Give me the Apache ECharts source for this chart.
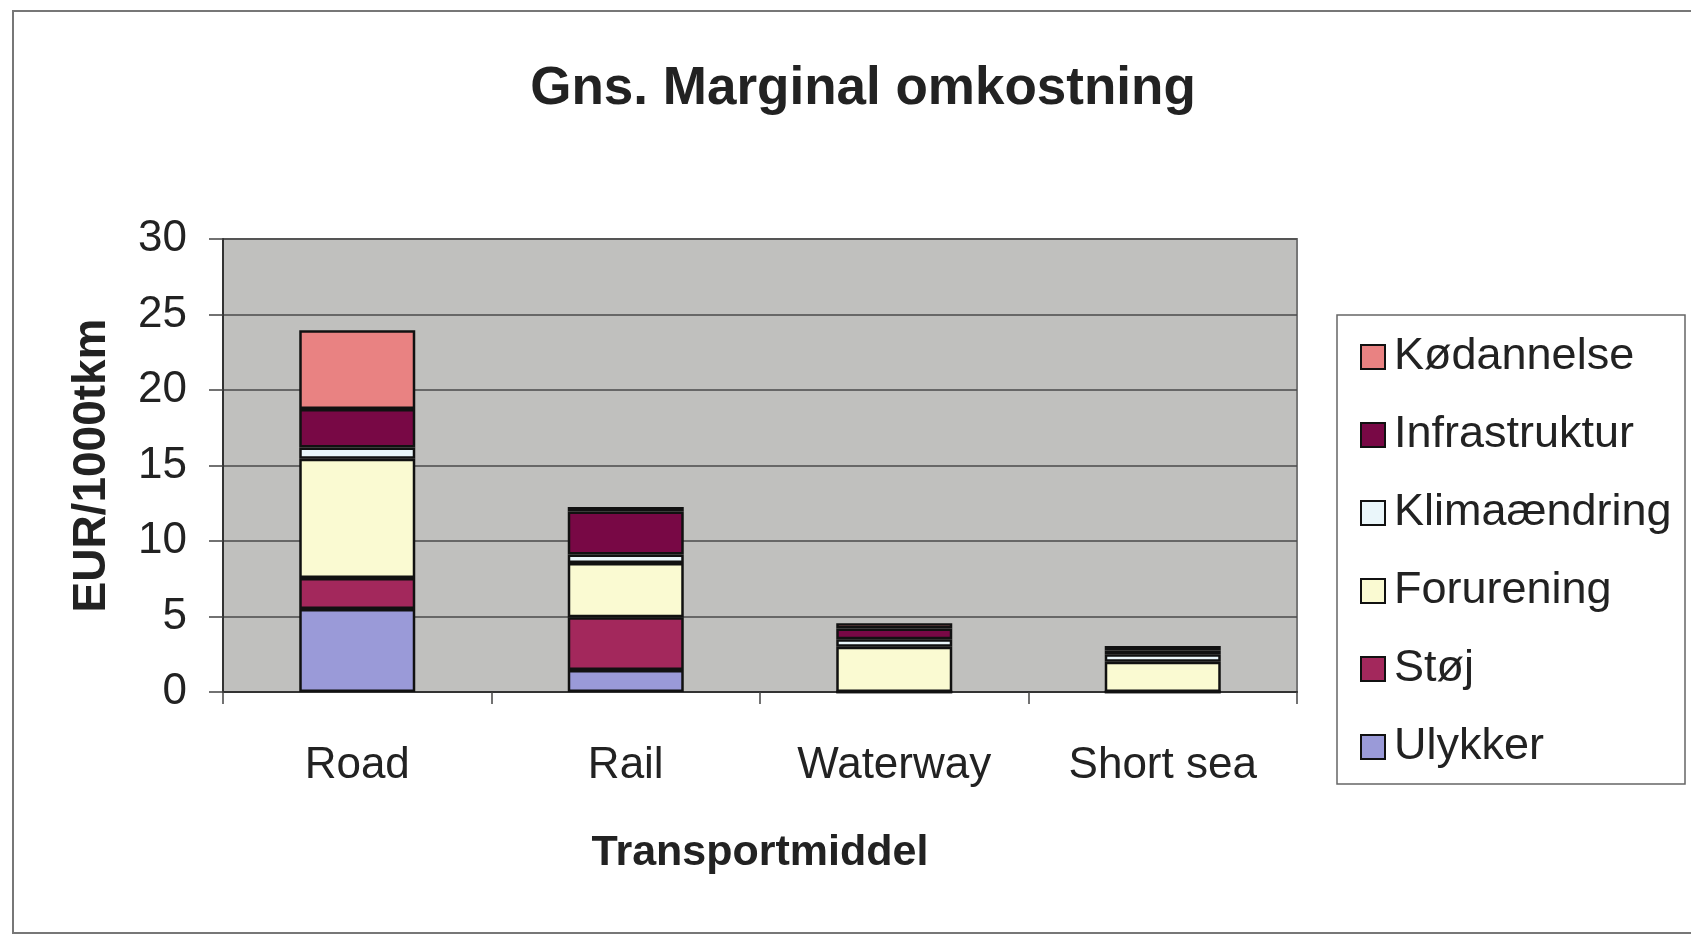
<!DOCTYPE html>
<html>
<head>
<meta charset="utf-8">
<script src="https://cdn.jsdelivr.net/npm/echarts@6/dist/echarts.min.js"></script>
<style>
html,body{margin:0;padding:0;background:#fff;}
#c{width:1691px;height:938px;}
</style>
</head>
<body>
<div id="c"></div>
<script>
const categories = ['Road', 'Rail', 'Waterway', 'Short sea'];
const ulykker = [5.5, 1.45, 0, 0];
const stoej = [2.05, 3.5, 0, 0];
const forurening = [7.9, 3.6, 3.0, 2.0];
const klima = [0.75, 0.55, 0.5, 0.5];
const infrastruktur = [2.55, 2.85, 0.7, 0.25];
const koedannelse = [5.2, 0.3, 0.35, 0.3];
const yTicks = [0, 5, 10, 15, 20, 25, 30];

const seriesDefs = [
  {name: 'Ulykker', data: ulykker, color: '#9a9ad8'},
  {name: 'Støj', data: stoej, color: '#a3285c'},
  {name: 'Forurening', data: forurening, color: '#fafad2'},
  {name: 'Klimaændring', data: klima, color: '#eaf6fa'},
  {name: 'Infrastruktur', data: infrastruktur, color: '#780845'},
  {name: 'Kødannelse', data: koedannelse, color: '#e98282'}
];

const FONT = '"Liberation Sans", Arial, sans-serif';
const chart = echarts.init(document.getElementById('c'), null, {renderer: 'canvas'});
chart.setOption({
  backgroundColor: '#ffffff',
  animation: false,
  title: {
    text: 'Gns. Marginal omkostning',
    left: 858,
    top: 58,
    textAlign: 'center',
    textStyle: {fontFamily: FONT, fontWeight: 'bold', fontSize: 53, color: '#222'}
  },
  graphic: [
    {type: 'rect', shape: {x: 13, y: 11, width: 1690, height: 922}, style: {fill: 'none', stroke: '#777', lineWidth: 2}, silent: true},
    {type: 'rect', shape: {x: 1337, y: 315, width: 348, height: 469}, style: {fill: '#fff', stroke: '#666', lineWidth: 1.5}, silent: true, z: -1}
  ],
  legend: {
    orient: 'vertical',
    left: 1355,
    top: 329,
    itemWidth: 24,
    itemHeight: 24,
    itemGap: 32,
    icon: 'rect',
    data: seriesDefs.map(s => s.name).reverse(),
    textStyle: {fontFamily: FONT, fontSize: 45, color: '#222', lineHeight: 46, padding: [0, 0, 0, 4]}
  },
  grid: {
    left: 223, right: 394, top: 239, bottom: 246,
    show: true, backgroundColor: '#c0c0be', borderColor: '#777', borderWidth: 2
  },
  xAxis: {
    type: 'category',
    data: categories,
    name: 'Transportmiddel',
    nameLocation: 'middle',
    nameGap: 140,
    nameTextStyle: {fontFamily: FONT, fontWeight: 'bold', fontSize: 43, color: '#222'},
    axisLine: {lineStyle: {color: '#333', width: 2}},
    axisTick: {show: true, length: 12, lineStyle: {color: '#444', width: 1.5}},
    axisLabel: {fontFamily: FONT, fontSize: 44, color: '#222', margin: 52}
  },
  yAxis: {
    type: 'value',
    min: 0, max: 30, interval: 5,
    name: 'EUR/1000tkm',
    nameLocation: 'middle',
    nameRotate: 90,
    nameGap: 108,
    nameTextStyle: {fontFamily: FONT, fontWeight: 'bold', fontSize: 46, color: '#222'},
    axisLine: {show: true, lineStyle: {color: '#333', width: 2}},
    axisTick: {show: true, length: 14, lineStyle: {color: '#444', width: 1.5}},
    axisLabel: {fontFamily: FONT, fontSize: 44, color: '#222', margin: 36,
      formatter: v => yTicks.includes(v) ? String(v) : ''},
    splitLine: {lineStyle: {color: '#4a4a4a', width: 1.5}}
  },
  series: seriesDefs.map(s => ({
    name: s.name,
    type: 'bar',
    stack: 'total',
    data: s.data,
    barWidth: 116,
    itemStyle: {color: s.color, borderColor: '#111', borderWidth: 2.5}
  }))
});
</script>
</body>
</html>
